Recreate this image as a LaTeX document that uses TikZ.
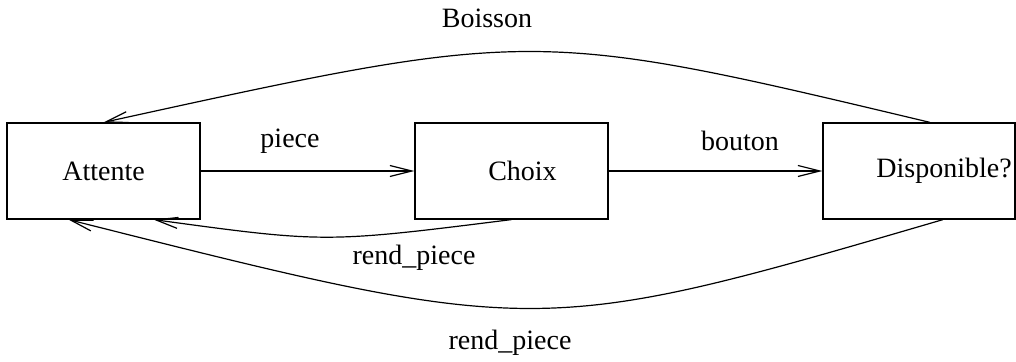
\documentclass[tikz,border=0pt]{standalone}
\usepackage{fontspec}
\setmainfont{Liberation Serif}
\usepackage{tikz}
\usetikzlibrary{arrows.meta,calc,positioning}
\tikzset{>={Straight Barb[length=11pt,width=5.5pt]}}

\begin{document}
\begin{tikzpicture}[x=0.5pt,y=0.5pt,line width=0.6pt,font=\fontsize{14}{16}\selectfont,
    etat/.style={draw,rectangle,minimum width=96.5pt,minimum height=48pt,inner sep=0pt}]
                \useasboundingbox (0,0) rectangle (1016,362);
                \node[etat,label={[xshift=0pt]center:Attente}] (attente) at (103.5,191) {};
                \node[etat,label={[xshift=5.5pt]center:Choix}] (choix) at (511.5,191) {};
                \node[etat,minimum width=96pt,label={[xshift=12.5pt]center:Disponible?}] (dispo) at (919,191) {};
                \draw[->] (attente.east) -- (choix.west);
                \draw[->] (choix.east) -- (dispo.west);
                \draw[->] ([xshift=5.5pt]dispo.north) .. controls (534,334) .. (attente.north);
                \draw[->] (choix.south) .. controls (325,119) .. ([xshift=25pt]attente.south);
                \draw[->] ([xshift=12pt]dispo.south) .. controls (538,24) .. ([xshift=-17.5pt]attente.south);
                \node (piece) at (290,221) {piece};
                \node (bouton) at (740,221) {bouton};
                \node (boisson) at (487,344) {Boisson};
                \node (rendA) at (414,104) {rend\_piece};
                \node (rendB) at (510,19) {rend\_piece};
            \end{tikzpicture}
\end{document}
